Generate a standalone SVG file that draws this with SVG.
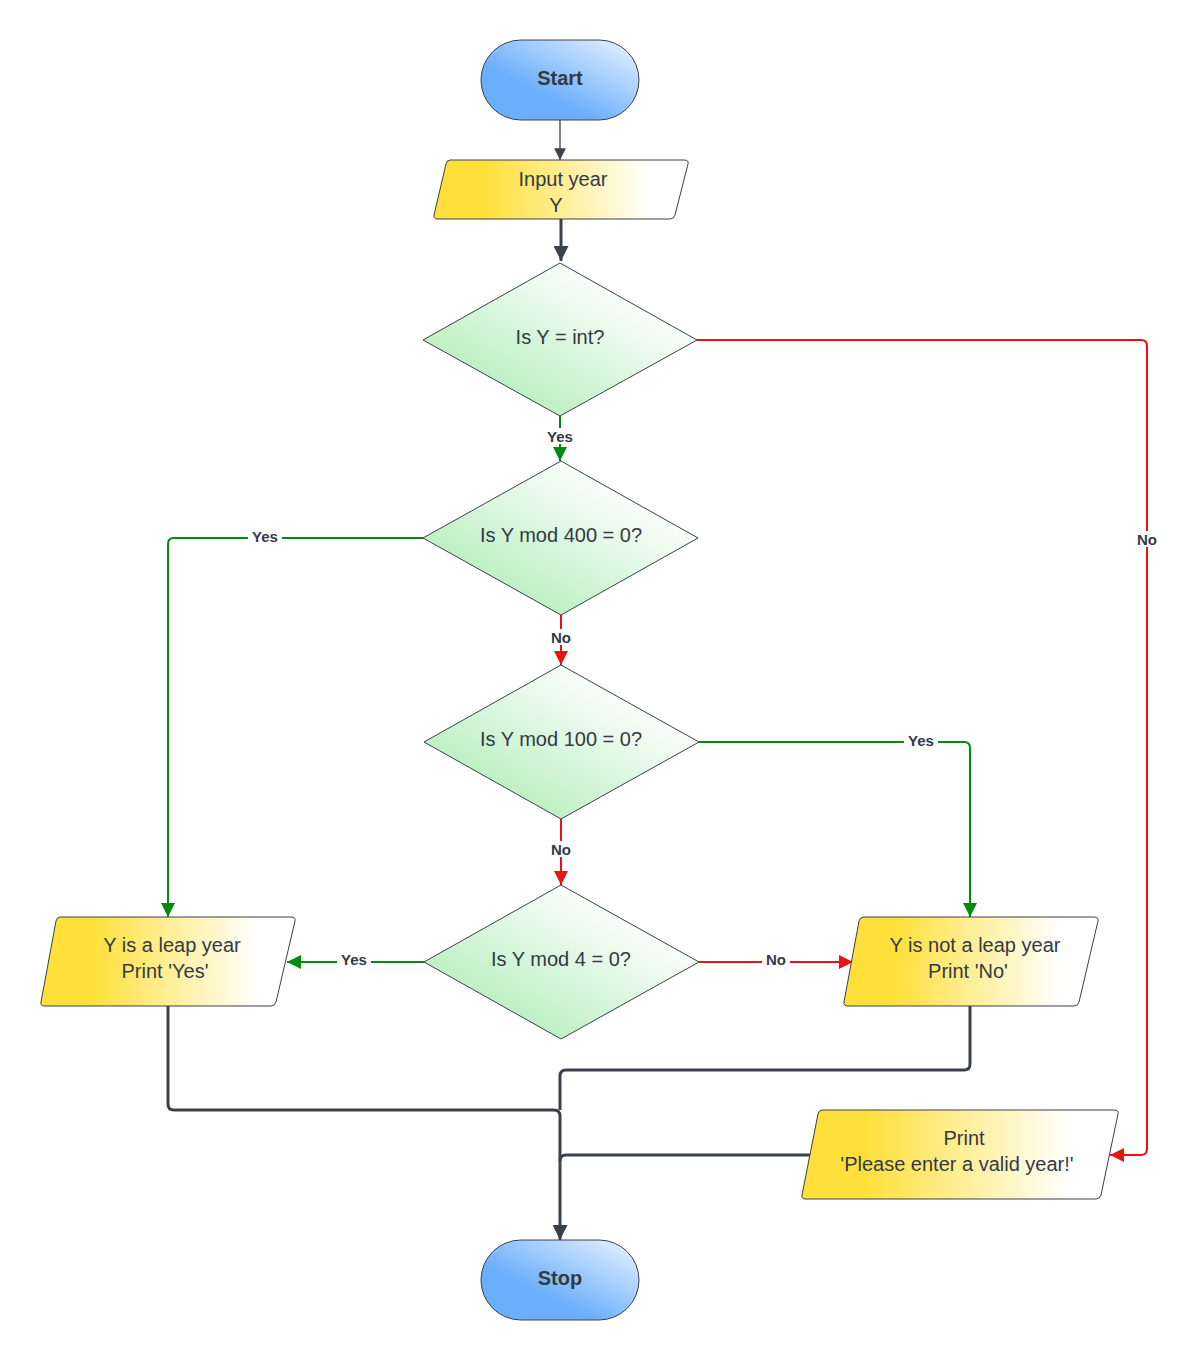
<svg xmlns="http://www.w3.org/2000/svg" width="1200" height="1360" viewBox="0 0 1200 1360">
<defs>
<linearGradient id="gb" x1="0" y1="1" x2="1" y2="0"><stop offset="0.35" stop-color="#6aaefc"/><stop offset="1" stop-color="#eef5ff"/></linearGradient>
<linearGradient id="gy" x1="0" y1="0" x2="1" y2="0"><stop offset="0.2" stop-color="#ffe03a"/><stop offset="0.85" stop-color="#ffffff"/></linearGradient>
<linearGradient id="gg" x1="0" y1="1" x2="1" y2="0"><stop offset="0.2" stop-color="#b9efc0"/><stop offset="0.8" stop-color="#ffffff"/></linearGradient>
<marker id="ad" viewBox="0 0 10 10" refX="10" refY="5" markerWidth="5" markerHeight="5" orient="auto" markerUnits="strokeWidth"><path d="M0,0L10,5L0,10z" fill="#3a414a"/></marker>
<marker id="adt" viewBox="0 0 10 10" refX="10" refY="5" markerWidth="9" markerHeight="9" orient="auto" markerUnits="strokeWidth"><path d="M0,0L10,5L0,10z" fill="#3a414a"/></marker>
<marker id="ag" viewBox="0 0 10 10" refX="10" refY="5" markerWidth="7" markerHeight="7" orient="auto" markerUnits="strokeWidth"><path d="M0,0L10,5L0,10z" fill="#008a0e"/></marker>
<marker id="ar" viewBox="0 0 10 10" refX="10" refY="5" markerWidth="7" markerHeight="7" orient="auto" markerUnits="strokeWidth"><path d="M0,0L10,5L0,10z" fill="#e81313"/></marker>
</defs>
<style>
.s{stroke:#3a414a;stroke-width:1}
.t{font-family:"Liberation Sans",Arial,sans-serif;font-size:20px;fill:#333a44;text-anchor:middle}
.b{font-weight:bold}
.l{font-family:"Liberation Sans",Arial,sans-serif;font-size:15px;font-weight:bold;fill:#333a44;text-anchor:middle}
.lb{fill:#fff}
.g{stroke:#008a0e;stroke-width:2;fill:none}
.r{stroke:#e81313;stroke-width:2;fill:none}
.d{stroke:#3a414a;stroke-width:3;fill:none}
</style>
<g id="connectors">
<path d="M560,120V160" stroke="#3a414a" stroke-width="1.3" fill="none" marker-end="url(#adt)"/>
<path class="d" d="M561,219V261" marker-end="url(#ad)"/>
<path class="r" d="M697,340H1141Q1147,340 1147,346V1149Q1147,1155 1141,1155H1110" marker-end="url(#ar)"/>
<path class="g" d="M560,416V461" marker-end="url(#ag)"/>
<path class="g" d="M423,538H174Q168,538 168,544V917" marker-end="url(#ag)"/>
<path class="r" d="M561,615V665" marker-end="url(#ar)"/>
<path class="g" d="M699,742H964Q970,742 970,748V917" marker-end="url(#ag)"/>
<path class="r" d="M561,819V885" marker-end="url(#ar)"/>
<path class="g" d="M424,962H287" stroke-width="3" marker-end="url(#ag)"/>
<path class="r" d="M699,962H853" stroke-width="3" marker-end="url(#ar)"/>
<path class="d" d="M168,1006V1104Q168,1110 174,1110H554Q560,1110 560,1116V1240" marker-end="url(#ad)"/>
<path class="d" d="M970,1006V1064Q970,1070 964,1070H566Q560,1070 560,1076V1110"/>
<path class="d" d="M810,1155H566Q560,1155 560,1161"/>
<rect class="lb" x="543" y="428" width="34" height="16"/><text class="l" x="560" y="442">Yes</text>
<rect class="lb" x="1133" y="531" width="28" height="16"/><text class="l" x="1147" y="545">No</text>
<rect class="lb" x="248" y="528" width="34" height="16"/><text class="l" x="265" y="542">Yes</text>
<rect class="lb" x="547" y="629" width="28" height="16"/><text class="l" x="561" y="643">No</text>
<rect class="lb" x="904" y="732" width="34" height="16"/><text class="l" x="921" y="746">Yes</text>
<rect class="lb" x="547" y="841" width="28" height="16"/><text class="l" x="561" y="855">No</text>
<rect class="lb" x="337" y="951" width="34" height="16"/><text class="l" x="354" y="965">Yes</text>
<rect class="lb" x="762" y="951" width="28" height="16"/><text class="l" x="776" y="965">No</text>
</g>
<g id="start"><rect class="s" x="481" y="40" width="158" height="80" rx="40" fill="url(#gb)"/><text class="t b" x="560" y="85">Start</text></g>
<g id="input"><path class="s" d="M450,160H684Q689,160 688,164L675,215Q674,219 670,219H438Q433,219 434,215L446,164Q447,160 450,160Z" fill="url(#gy)"/><text class="t" x="563" y="186">Input year</text><text class="t" x="556" y="212">Y</text></g>
<g id="d1"><path class="s" d="M560,263L697,340L560,416L423,340Z" fill="url(#gg)"/><text class="t" x="560" y="344">Is Y = int?</text></g>
<g id="d2"><path class="s" d="M561,461L698,538L561,615L423,538Z" fill="url(#gg)"/><text class="t" x="561" y="542">Is Y mod 400 = 0?</text></g>
<g id="d3"><path class="s" d="M561,665L699,742L561,819L424,742Z" fill="url(#gg)"/><text class="t" x="561" y="746">Is Y mod 100 = 0?</text></g>
<g id="d4"><path class="s" d="M561,885L699,962L561,1039L424,962Z" fill="url(#gg)"/><text class="t" x="561" y="966">Is Y mod 4 = 0?</text></g>
<g id="leap"><path class="s" d="M60,917H291Q296,917 295,921L276,1002Q275,1006 271,1006H45Q40,1006 41,1002L56,921Q57,917 60,917Z" fill="url(#gy)"/><text class="t" x="172" y="952">Y is a leap year</text><text class="t" x="165" y="978">Print 'Yes'</text></g>
<g id="notleap"><path class="s" d="M864,917H1094Q1099,917 1098,921L1079,1002Q1078,1006 1074,1006H848Q843,1006 844,1002L859,921Q860,917 864,917Z" fill="url(#gy)"/><text class="t" x="975" y="952">Y is not a leap year</text><text class="t" x="968" y="978">Print 'No'</text></g>
<g id="print"><path class="s" d="M822,1110H1114Q1119,1110 1118,1114L1101,1195Q1100,1199 1096,1199H806Q801,1199 802,1195L818,1114Q819,1110 822,1110Z" fill="url(#gy)"/><text class="t" x="964" y="1145">Print</text><text class="t" x="957" y="1171">'Please enter a valid year!'</text></g>
<g id="stop"><rect class="s" x="481" y="1240" width="158" height="80" rx="40" fill="url(#gb)"/><text class="t b" x="560" y="1285">Stop</text></g>
</svg>
